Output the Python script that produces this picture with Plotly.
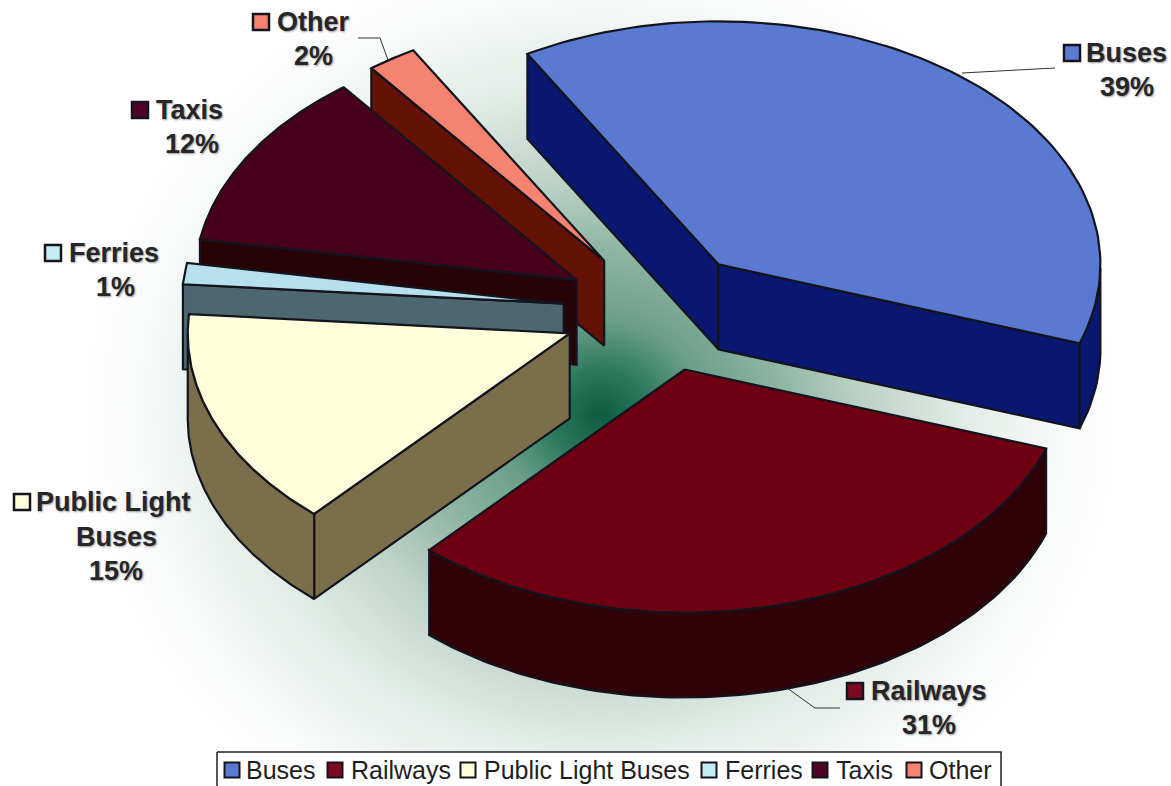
import numpy as np
import plotly.graph_objects as go

# ---- data ----
categories = ["Buses", "Railways", "Public Light Buses", "Ferries", "Taxis", "Other"]
shares = [38.6, 31.4, 14.6, 1.4, 11.9, 2.1]   # labels show rounded values

# ---- style ----
top_colors = ["#5a7ad2", "#6f0012", "#ffffdc", "#b6e0ee", "#48001a", "#f6836f"]
side_colors = ["#0a1770", "#2e0206", "#7a6f4a", "#4d6770", "#260307", "#641106"]
key_colors = ["#5a7ad2", "#7a0a20", "#ffffdc", "#c4ecf6", "#4e0026", "#f6836f"]
nudge_x = [0, 3, 0, 0, 0, -1]
edge = "#14141e"
text_col = "#262628"
W, H = 1171, 786
CX, CY, RX, RY, DEPTH, EXPLODE, START = 658, 311, 382, 243, 85, 95, -30

fig = go.Figure()

# background glow
gx = np.linspace(0, W, 80)
gy = np.linspace(0, H, 54)
XX, YY = np.meshgrid(gx, gy)
glow = np.sqrt((XX - 600) ** 2 + ((YY - 415) * 1.1) ** 2) / 520
fig.add_trace(go.Heatmap(
    x=gx, y=gy, z=glow, zmin=0, zmax=1, zsmooth="best", showscale=False, hoverinfo="skip",
    colorscale=[[0, "#0b5a3e"], [0.1, "#2f7a5e"], [0.2, "#6a9f89"], [0.35, "#8fb5a3"],
                [0.5, "#bcd2c7"], [0.7, "#e2ece7"], [0.9, "#f8fbf9"], [1, "#ffffff"]],
))


def poly(xs, ys, color, width=2.2, line=edge):
    fig.add_trace(go.Scatter(
        x=xs, y=ys, mode="lines", fill="toself", fillcolor=color,
        line=dict(color=line, width=width), hoverinfo="skip", showlegend=False,
    ))


def wedge(i, a0, a1):
    mid = np.radians((a0 + a1) / 2)
    ax = CX + EXPLODE * np.sin(mid) + nudge_x[i]
    ay = CY - EXPLODE * RY / RX * np.cos(mid)
    t = np.radians(np.linspace(a0, a1, 100))
    ex = ax + RX * np.sin(t)
    ey = ay - RY * np.cos(t)
    # radial cut faces, only those turned toward the viewer
    if np.sin(t[0]) < 0:
        poly([ax, ex[0], ex[0], ax, ax], [ay, ey[0], ey[0] + DEPTH, ay + DEPTH, ay], side_colors[i])
    if np.sin(t[-1]) > 0:
        poly([ax, ex[-1], ex[-1], ax, ax], [ay, ey[-1], ey[-1] + DEPTH, ay + DEPTH, ay], side_colors[i])
    # outer wall, front-facing part only
    front = (np.cos(t) <= 0)
    if front.any():
        fx, fy = ex[front], ey[front]
        poly(np.r_[fx, fx[::-1], fx[0]], np.r_[fy, fy[::-1] + DEPTH, fy[0]], side_colors[i])
    # top face
    poly(np.r_[ax, ex, ax], np.r_[ay, ey, ay], top_colors[i])


angles = np.r_[0, np.cumsum(shares)] * 3.6 + START
for i in (0, 1, 5, 4, 3, 2):
    wedge(i, angles[i], angles[i + 1])

# leader lines
leaders = [
    ([962, 1055], [73, 68]),
    ([787, 815, 840], [688, 708, 708]),
    ([358, 380, 388], [38, 38, 60]),
]
for lx, ly in leaders:
    fig.add_trace(go.Scatter(x=lx, y=ly, mode="lines", line=dict(color="#333333", width=1),
                             hoverinfo="skip", showlegend=False))

# data labels: key position, name line(s), percent
label_pos = [
    dict(key=(1072, 53), name=[("Buses", 1084, 53, "left")], pct=(1127, 87)),
    dict(key=(855, 691), name=[("Railways", 869, 691, "left")], pct=(929, 725)),
    dict(key=(22, 502), name=[("Public Light", 34, 502, "left"), ("Buses", 116, 537, "center")], pct=(116, 571)),
    dict(key=(53, 253), name=[("Ferries", 67, 253, "left")], pct=(115, 287)),
    dict(key=(140, 110), name=[("Taxis", 154, 110, "left")], pct=(192, 144)),
    dict(key=(261, 22), name=[("Other", 275, 22, "left")], pct=(313, 56)),
]
label_font = dict(family="Liberation Sans", size=27, color=text_col, weight="bold",
                  shadow="1px 1px 2px #999999")
annots = []
for lab, share in zip(label_pos, shares):
    for txt, x, y, anc in lab["name"]:
        annots.append(dict(x=x, y=y, text=txt, xanchor=anc, yanchor="middle", showarrow=False,
                           font=label_font, xref="x", yref="y"))
    annots.append(dict(x=lab["pct"][0], y=lab["pct"][1], text=f"{round(share)}%", xanchor="center",
                       yanchor="middle", showarrow=False, font=label_font, xref="x", yref="y"))

fig.add_trace(go.Scatter(
    x=[l["key"][0] for l in label_pos], y=[l["key"][1] for l in label_pos], mode="markers",
    marker=dict(symbol="square", size=16, color=key_colors, line=dict(color=edge, width=2.5)),
    hoverinfo="skip", showlegend=False,
))

# legend
legend_key_x = [232, 335, 468, 709, 820, 914]
legend_text_x = [244, 349, 482, 723, 834, 927]
LEG_Y = 770
poly([217, 1001, 1001, 217, 217], [752, 752, 790, 790, 752], "white", width=1.5, line="#222222")
for name, tx in zip(categories, legend_text_x):
    annots.append(dict(x=tx, y=LEG_Y, text=name, xanchor="left", yanchor="middle", showarrow=False,
                       font=dict(family="Liberation Sans", size=25, color="#1e1e22"), xref="x", yref="y"))
fig.add_trace(go.Scatter(
    x=legend_key_x, y=[LEG_Y] * len(legend_key_x), mode="markers",
    marker=dict(symbol="square", size=15, color=key_colors, line=dict(color=edge, width=2)),
    hoverinfo="skip", showlegend=False,
))

fig.update_layout(
    width=W, height=H, margin=dict(l=0, r=0, t=0, b=0), paper_bgcolor="white", plot_bgcolor="white",
    xaxis=dict(range=[0, W], visible=False, fixedrange=True),
    yaxis=dict(range=[H, 0], visible=False, fixedrange=True),
    showlegend=False, annotations=annots,
)
fig.write_html("out.html", config=dict(displayModeBar=False),
               post_script="document.body.style.margin='0';")
